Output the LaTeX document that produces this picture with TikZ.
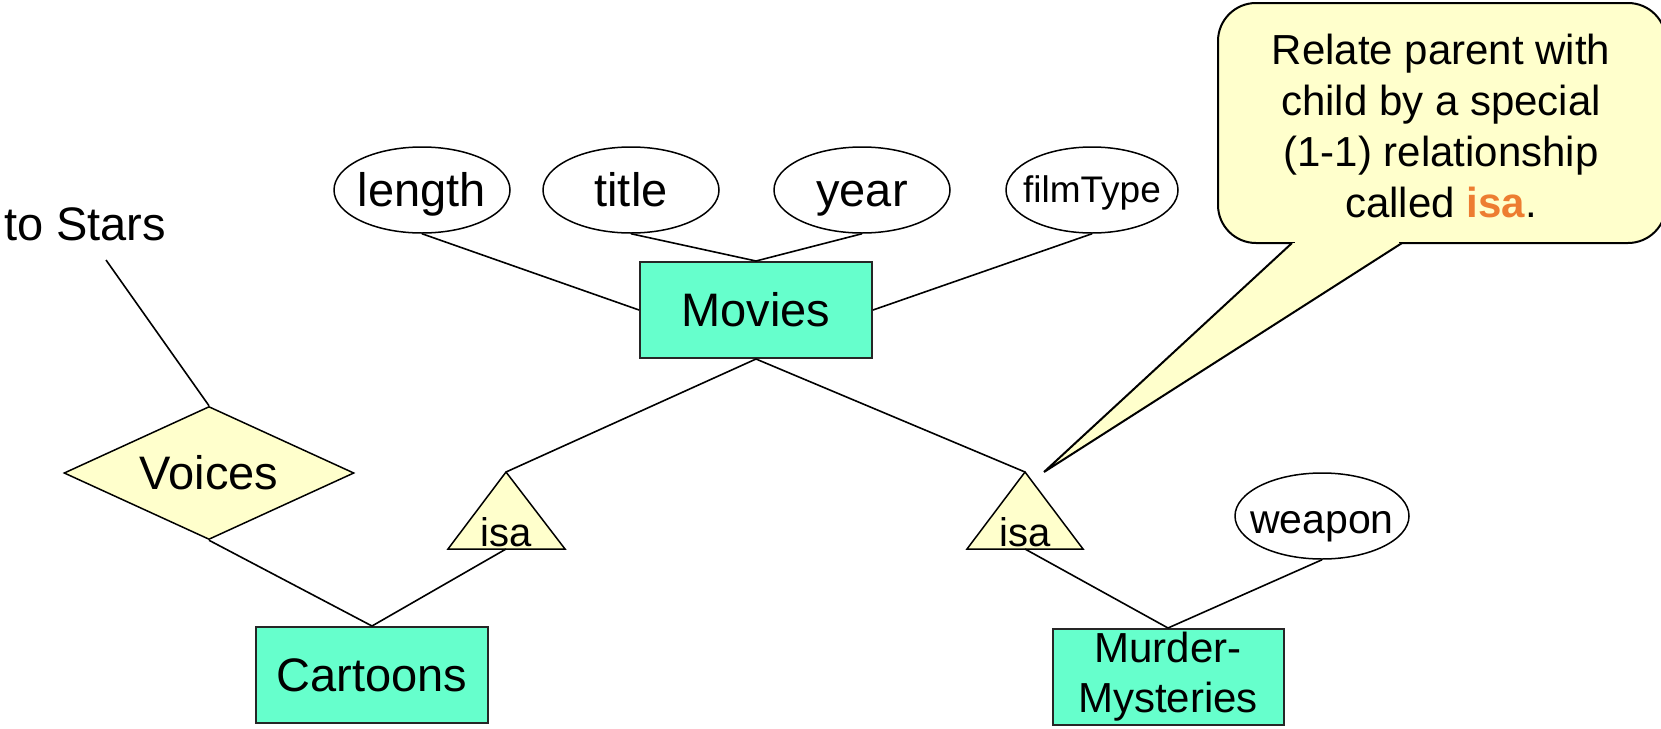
\documentclass[tikz,border=0pt]{standalone}
\usepackage{fontspec}
\setmainfont{Liberation Sans}
\usetikzlibrary{shapes.geometric}
\definecolor{entfill}{HTML}{66FFCC}
\definecolor{relfill}{HTML}{FFFFCC}
\definecolor{isaorange}{RGB}{237,125,49}
\begin{document}
\begin{tikzpicture}[x=1pt,y=-1pt,
  conn/.style={draw=black, line width=1.6pt},
  entbase/.style={draw=black!85, line width=2pt, fill=entfill, inner sep=0pt,
    minimum width=232pt, minimum height=96pt},
  entity/.style={entbase, font=\fontsize{47}{56}\selectfont, text height=42.3pt, text depth=9.4pt},
  attr/.style={ellipse, draw=black, line width=1.5pt, fill=white, inner ysep=0pt, inner xsep=-14pt,
    minimum width=176pt, minimum height=86pt,
    font=\fontsize{47}{56}\selectfont, text height=42.3pt, text depth=9.4pt},
  rel/.style={diamond, aspect=2.2, draw=black, line width=1.5pt, fill=relfill, inner sep=0pt,
    minimum width=290pt, minimum height=133pt,
    font=\fontsize{47}{56}\selectfont, text height=42.3pt, text depth=9.4pt},
  isatri/.style={draw=black, line width=1.5pt, fill=relfill, line join=miter},
  isatext/.style={font=\fontsize{40}{48}\selectfont, inner sep=0pt},
  callout/.style={draw=black, line width=2pt, fill=relfill},
  plain/.style={font=\fontsize{47}{56}\selectfont, inner sep=0pt}
]
\useasboundingbox (0,0) rectangle (1661,728);

% callout
\draw[callout, rounded corners=38pt] (1218,3) rectangle (1666,243);
\coordinate (tip) at (1044,472);
\coordinate (ptrL) at (1292,243);
\coordinate (ptrR) at (1402,243);
\fill[relfill] (ptrL) -- (ptrR) -- (tip) -- cycle;
\fill[relfill] (1295,240.5) rectangle (1399,245.5);
\draw[callout, fill=none, line join=miter] (ptrL) -- (tip) -- (ptrR);
\node[font=\fontsize{42}{51}\selectfont, align=center, inner sep=0pt] (note) at (1441,126)
  {Relate parent with\\child by a special\\(1-1) relationship\\called \textbf{\color{isaorange}isa}.};

% entities
\node[entity] (movies) at (756,310) {Movies};
\node[entity] (cartoons) at (372,675) {Cartoons};
\node[entbase, minimum width=231pt, align=center, font=\fontsize{42}{50}\selectfont] (mm) at (1168,677) {Murder-\\Mysteries};

% attributes
\node[attr] (length) at (422,190) {length};
\node[attr] (title) at (631,190) {title};
\node[attr] (year) at (862,190) {year};
\node[attr, minimum width=172pt, font=\fontsize{37}{44}\selectfont, text height=33.3pt, text depth=7.4pt] (filmtype) at (1092,190) {filmType};
\node[attr, minimum width=174pt, font=\fontsize{41}{49}\selectfont, text height=38pt, text depth=4pt] (weapon) at (1322,516) {weapon};

% relationship
\node[rel] (voices) at (209,473) {Voices};
\node[plain, anchor=base west] (stars) at (4,240) {to Stars};
\coordinate (starsend) at (106,260);

% isa triangles
\coordinate (isaLtop) at (506,472);
\coordinate (isaLbot) at (506,549);
\draw[isatri] (448,549) -- (isaLtop) -- (565,549) -- cycle;
\node[isatext, anchor=base] (isaL) at (506,546) {isa};
\coordinate (isaRtop) at (1025,472);
\coordinate (isaRbot) at (1025,549);
\draw[isatri] (967,549) -- (isaRtop) -- (1083,549) -- cycle;
\node[isatext, anchor=base] (isaR) at (1025,546) {isa};

% connectors
\draw[conn] (length.south) -- (movies.west);
\draw[conn] (title.south) -- (movies.north);
\draw[conn] (year.south) -- (movies.north);
\draw[conn] (filmtype.south) -- (movies.east);
\draw[conn] (movies.south) -- (isaLtop);
\draw[conn] (movies.south) -- (isaRtop);
\draw[conn] (isaLbot) -- (cartoons.north);
\draw[conn] (voices.south) -- (cartoons.north);
\draw[conn] (starsend) -- (voices.north);
\draw[conn] (isaRbot) -- (mm.north);
\draw[conn] (weapon.south) -- (mm.north);
\end{tikzpicture}
\end{document}
